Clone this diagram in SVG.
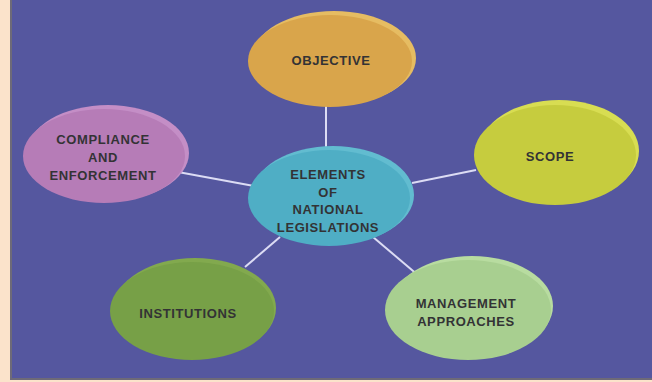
<svg xmlns="http://www.w3.org/2000/svg" width="652" height="382" viewBox="0 0 652 382">
<style>
.lbl{font-family:"Liberation Sans",Arial,sans-serif;font-weight:bold;font-size:13px;letter-spacing:0.6px;fill:#333335;text-anchor:middle}
.edge{stroke:#dcdcf4;stroke-width:2;fill:none}
</style>
<rect x="0" y="0" width="652" height="382" fill="#fbe3cb"/>
<rect x="10" y="0" width="642" height="380" fill="#6e6a78"/>
<rect x="12" y="0" width="640" height="378" fill="#55579f"/>
<g id="connectors">
<line class="edge" x1="326" y1="106" x2="326" y2="150"/>
<line class="edge" x1="178" y1="172" x2="254" y2="186"/>
<line class="edge" x1="412" y1="183" x2="476" y2="170"/>
<line class="edge" x1="245" y1="267" x2="280" y2="237"/>
<line class="edge" x1="373" y1="237" x2="419" y2="276"/>
</g>
<g id="objective">
<ellipse cx="334" cy="58" rx="82" ry="47" fill="#e6bc62"/>
<ellipse cx="330" cy="61" rx="82" ry="46" fill="#d9a54b"/>
<text class="lbl" x="331" y="65">OBJECTIVE</text>
</g>
<g id="compliance">
<ellipse cx="108" cy="153" rx="81" ry="48" fill="#c48ec6"/>
<ellipse cx="104" cy="156" rx="81" ry="47" fill="#b67cb7"/>
<text class="lbl" x="103" y="144">COMPLIANCE</text>
<text class="lbl" x="103" y="162">AND</text>
<text class="lbl" x="103" y="180">ENFORCEMENT</text>
</g>
<g id="center">
<ellipse cx="333" cy="195" rx="81" ry="49" fill="#62bcd0"/>
<ellipse cx="329" cy="198" rx="81" ry="48" fill="#4faec5"/>
<text class="lbl" x="328" y="179">ELEMENTS</text>
<text class="lbl" x="328" y="197">OF</text>
<text class="lbl" x="328" y="214">NATIONAL</text>
<text class="lbl" x="328" y="232">LEGISLATIONS</text>
</g>
<g id="scope">
<ellipse cx="559" cy="151" rx="80" ry="51" fill="#d8dd52"/>
<ellipse cx="555" cy="155" rx="81" ry="50" fill="#c6cc3e"/>
<text class="lbl" x="550" y="161">SCOPE</text>
</g>
<g id="institutions">
<ellipse cx="195" cy="308" rx="81" ry="50" fill="#82a94e"/>
<ellipse cx="192" cy="311" rx="82" ry="49" fill="#77a047"/>
<text class="lbl" x="188" y="318">INSTITUTIONS</text>
</g>
<g id="management">
<ellipse cx="472" cy="306" rx="81" ry="50" fill="#b8dca0"/>
<ellipse cx="468" cy="310" rx="83" ry="50" fill="#a8cf90"/>
<text class="lbl" x="466" y="308">MANAGEMENT</text>
<text class="lbl" x="466" y="326">APPROACHES</text>
</g>
</svg>
